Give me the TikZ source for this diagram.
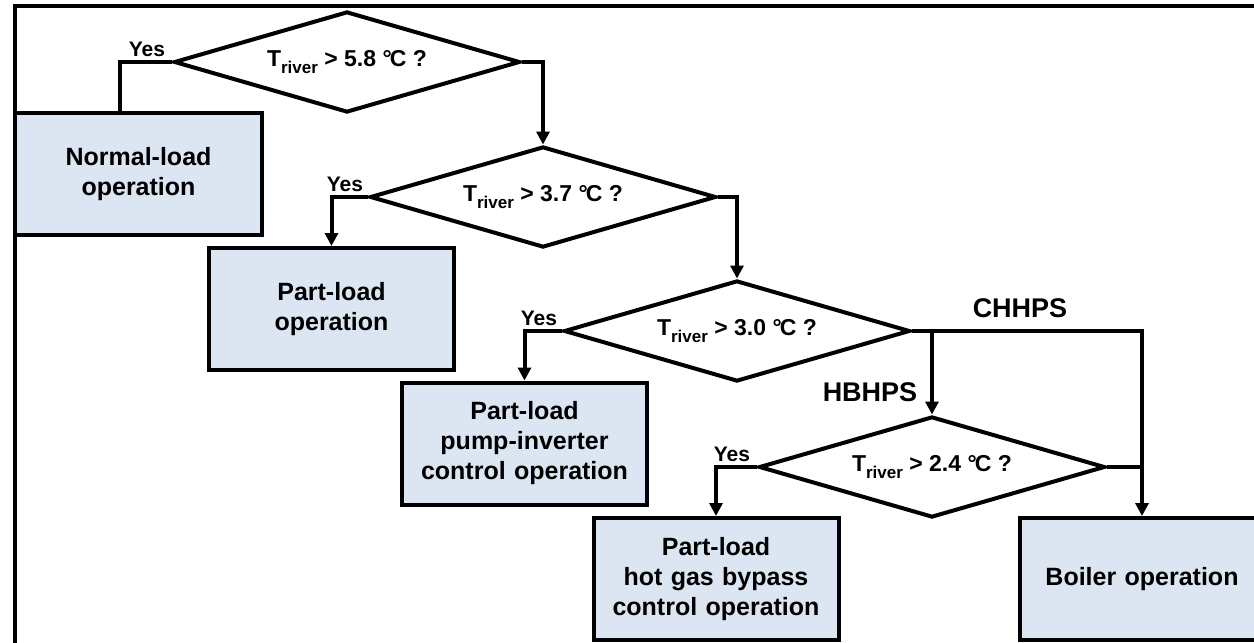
\documentclass[tikz,border=0pt]{standalone}
\usepackage{fontspec}
\setmainfont{Liberation Sans}
\usetikzlibrary{shapes.geometric,arrows.meta}
\definecolor{boxfill}{RGB}{220,230,242}
\newcommand{\triver}{T\raisebox{-0.3em}{\fontsize{17}{17}\selectfont river}}
\newcommand{\degc}{°\kern-0.08em C}

\begin{document}
\begin{tikzpicture}[x=1pt, y=-1pt, line width=4pt, >={Triangle[length=13pt, width=13pt]},
	every node/.style={font=\bfseries},
	opbox/.style={draw, rectangle, fill=boxfill, text width=235pt, align=center, minimum width=245pt, minimum height=122pt, font=\fontsize{25}{30}\selectfont\bfseries},
	check/.style={draw, diamond, aspect=3.43, minimum width=346pt, minimum height=101pt, inner sep=0pt, font=\fontsize{23}{27}\selectfont\bfseries},
	yes/.style={anchor=south east, inner sep=1pt, font=\fontsize{21}{25}\selectfont\bfseries},
	system/.style={font=\fontsize{27}{32}\selectfont\bfseries}]
	\useasboundingbox (0,0) rectangle (1254,643);
	\clip (0,0) rectangle (1254,643);
	\draw (15,6) rectangle (1300,700);
	\node[check] (Check 58) at (347, 62) {\triver{} > 5.8 \degc{} ?};
	\node[check] (Check 37) at (543, 197) {\triver{} > 3.7 \degc{} ?};
	\node[check] (Check 30) at (737, 331) {\triver{} > 3.0 \degc{} ?};
	\node[check] (Check 24) at (932, 467) {\triver{} > 2.4 \degc{} ?};
	\node[opbox, minimum width=247pt] (Normal-load) at (138.5, 174) {Normal-load\\operation};
	\node[opbox] (Part-load) at (331.5, 309) {Part-load\\operation};
	\node[opbox] (Pump-inverter) at (524.5, 443.5) {Part-load\\pump-inverter\\control operation};
	\node[opbox] (Hot gas bypass) at (716, 579) {Part-load\\hot gas bypass\\control operation};
	\node[opbox] (Boiler) at (1142, 579) {Boiler operation};
	\node[yes] (Yes 58) at ([xshift=-4pt, yshift=2pt]Check 58.west) {Yes};
	\node[yes] (Yes 37) at ([xshift=-2pt, yshift=2pt]Check 37.west) {Yes};
	\node[yes] (Yes 30) at ([xshift=-2pt, yshift=2pt]Check 30.west) {Yes};
	\node[yes] (Yes 24) at ([xshift=-4pt, yshift=2pt]Check 24.west) {Yes};
	\node[system] (CHHPS) at (1020, 308) {CHHPS};
	\node[system] (HBHPS) at (870, 392) {HBHPS};
	\coordinate (Yes Normal) at (120, 113);
	\draw (Check 58.west) -| (Yes Normal);
	\draw[->] (Check 58.east) -| (Check 37.north);
	\draw[->] (Check 37.west) -| (Part-load.north);
	\draw[->] (Check 37.east) -| (Check 30.north);
	\draw[->] (Check 30.west) -| (Pump-inverter.north);
	\draw[->] (Check 30.east) -| (Boiler.north);
	\coordinate (HBHPS branch) at (Check 30.east -| Check 24.north);
	\draw[->] (HBHPS branch) -- (Check 24.north);
	\draw[->] (Check 24.west) -| (Hot gas bypass.north);
	\coordinate (Boiler join) at (Check 24.east -| Boiler.north);
	\draw (Check 24.east) -- (Boiler join);
\end{tikzpicture}
\end{document}
